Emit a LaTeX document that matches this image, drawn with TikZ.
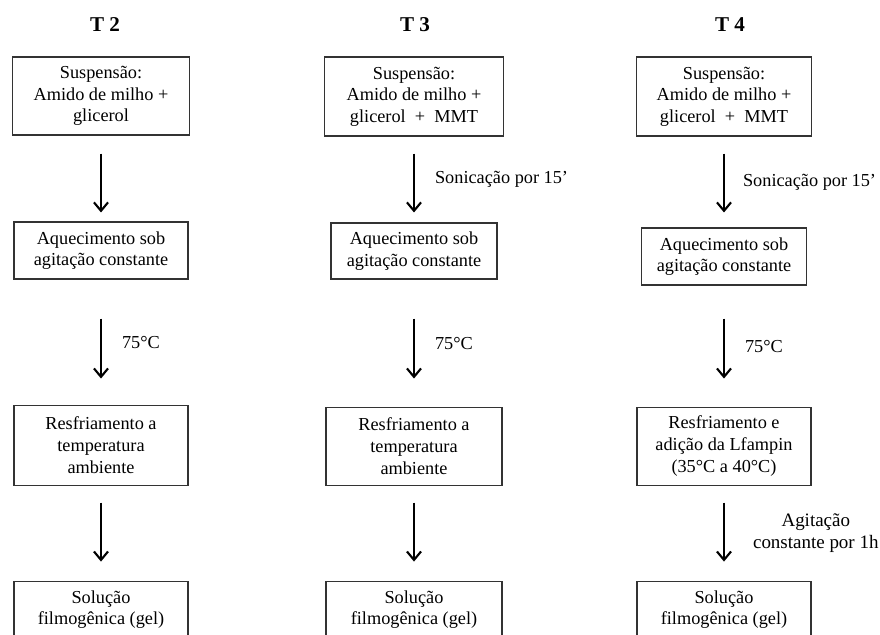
\documentclass[tikz,border=0pt]{standalone}
\usepackage{fontspec}
\setmainfont{Liberation Serif}
\usetikzlibrary{arrows.meta}

\begin{document}
\begin{tikzpicture}[x=0.025cm, y=-0.025cm,
      passo/.style={draw=black!80, line width=0.8pt, rectangle, align=center, inner sep=2pt,
        font=\fontsize{13}{15.4}\selectfont},
      titulo/.style={font=\fontsize{15}{17}\selectfont\bfseries},
      seta/.style={line width=1.5pt, -{Straight Barb[length=6pt,width=10pt,line width=1.5pt]}},
      rotulo/.style={right=#1, inner sep=0pt, align=center, font=\fontsize{13}{15.4}\selectfont},
      rotulo/.default=0.5cm]
    \path[use as bounding box, clip] (0,0) rectangle (880,634);

    \node[titulo](t2) at (105,25){T 2};
    \node[passo, minimum width=4.425cm, minimum height=1.95cm](a1) at (101,96){Suspensão:\\Amido de milho +\\glicerol};
    \node[passo, minimum width=4.35cm, minimum height=1.425cm, node distance=3.8625cm, below of=a1](a2){Aquecimento sob\\agitação constante};
    \node[passo, minimum width=4.35cm, minimum height=2cm, node distance=4.8625cm, below of=a2](a3){Resfriamento a\\temperatura\\ambiente};
    \node[passo, minimum width=4.35cm, minimum height=1.425cm, node distance=4.1125cm, below of=a3](a4){Solução\\filmogênica (gel)};
    \draw[seta, shorten <=0.45cm, shorten >=0.225cm] (a1) -- (a2);
    \draw[seta, shorten <=0.975cm, shorten >=0.65cm] (a2) -- node[rotulo]{75°C} (a3);
    \draw[seta, shorten <=0.425cm, shorten >=0.475cm] (a3) -- (a4);

    \node[titulo](t3) at (415,25){T 3};
    \node[passo, minimum width=4.475cm, minimum height=1.975cm](b1) at (414,96.5){Suspensão:\\Amido de milho +\\glicerol~~+~~MMT};
    \node[passo, minimum width=4.15cm, minimum height=1.4cm, node distance=3.8625cm, below of=b1](b2){Aquecimento sob\\agitação constante};
    \node[passo, minimum width=4.4cm, minimum height=1.95cm, node distance=4.875cm, below of=b2](b3){Resfriamento a\\temperatura\\ambiente};
    \node[passo, minimum width=4.4cm, minimum height=1.425cm, node distance=4.0875cm, below of=b3](b4){Solução\\filmogênica (gel)};
    \draw[seta, shorten <=0.425cm, shorten >=0.25cm] (b1) -- node[rotulo]{Sonicação por 15’} (b2);
    \draw[seta, shorten <=0.975cm, shorten >=0.7cm] (b2) -- node[rotulo]{75°C} (b3);
    \draw[seta, shorten <=0.425cm, shorten >=0.475cm] (b3) -- (b4);

    \node[titulo](t4) at (730,25){T 4};
    \node[passo, minimum width=4.375cm, minimum height=1.975cm](c1) at (724,96.5){Suspensão:\\Amido de milho +\\glicerol~~+~~MMT};
    \node[passo, minimum width=4.125cm, minimum height=1.425cm, node distance=4cm, below of=c1](c2){Aquecimento sob\\agitação constante};
    \node[passo, minimum width=4.35cm, minimum height=1.95cm, node distance=4.7375cm, below of=c2](c3){Resfriamento e\\adição da Lfampin\\(35°C a 40°C)};
    \node[passo, minimum width=4.35cm, minimum height=1.425cm, node distance=4.0875cm, below of=c3](c4){Solução\\filmogênica (gel)};
    \draw[seta, shorten <=0.425cm, shorten >=0.375cm] (c1) -- node[rotulo=0.45cm]{Sonicação por 15’} (c2);
    \draw[seta, shorten <=0.825cm, shorten >=0.7cm] (c2) -- node[rotulo]{75°C} (c3);
    \draw[seta, shorten <=0.425cm, shorten >=0.475cm] (c3) -- node[rotulo=0.7cm, font=\fontsize{13.5}{15.4}\selectfont]{Agitação\\constante por 1h} (c4);

\end{tikzpicture}
\end{document}
